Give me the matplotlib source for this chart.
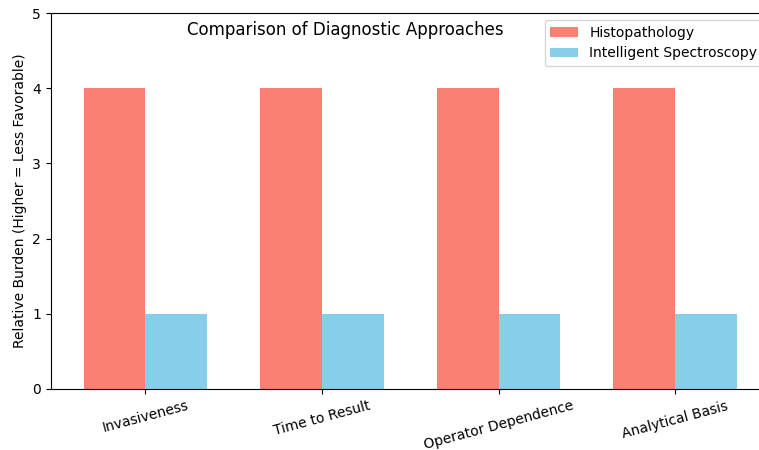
import numpy as np
import matplotlib.pyplot as plt

criteria = ['Invasiveness', 'Time to Result', 'Operator Dependence', 'Analytical Basis']
histopathology = [4, 4, 4, 4]
spectroscopy = [1, 1, 1, 1]

x = np.arange(len(criteria))
width = 0.35

fig = plt.figure(figsize=(7.59, 4.5), dpi=100)
ax = fig.add_axes([0.067, 0.1356, 0.947, 0.8355])

ax.bar(x - width / 2, histopathology, width, color='salmon', label='Histopathology')
ax.bar(x + width / 2, spectroscopy, width, color='skyblue', label='Intelligent Spectroscopy')

ax.set_ylim(0, 5)
ax.set_xticks(x)
ax.set_xticklabels(criteria, rotation=15)
ax.set_ylabel('Relative Burden (Higher = Less Favorable)')
ax.text(0.409, 0.955, 'Comparison of Diagnostic Approaches', transform=ax.transAxes,
        ha='center', va='center', fontsize=12)
ax.legend(loc='upper right')

fig.savefig('out.png', dpi=100)
